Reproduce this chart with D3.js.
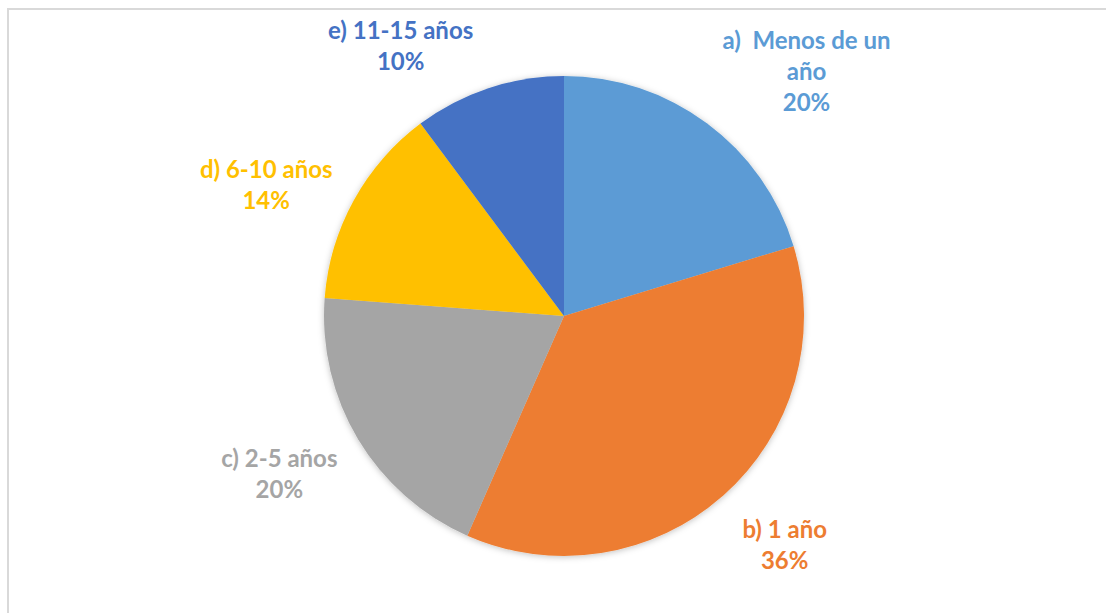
<!DOCTYPE html>
<html>
<head>
<meta charset="utf-8">
<script src="https://cdn.jsdelivr.net/npm/d3@7"></script>
<style>
  html, body { margin: 0; padding: 0; background: #fff; }
  svg { display: block; }
  .label { white-space: pre; }
</style>
</head>
<body>
<div id="chart"></div>
<script>
// chart data
var categories = ["a)  Menos de un año", "b) 1 año", "c) 2-5 años", "d) 6-10 años", "e) 11-15 años"];
var labelLines = [["a)  Menos de un", "año"], ["b) 1 año"], ["c) 2-5 años"], ["d) 6-10 años"], ["e) 11-15 años"]];
var values = [20.3, 36.3, 19.6, 13.6, 10.2];
var colors = ["#5B9BD5", "#ED7D31", "#A5A5A5", "#FFC000", "#4472C4"];

var width = 1106, height = 613;
var cx = 564, cy = 316, radius = 240;
var labelRadius = 325;
// "best fit" nudges, like the spreadsheet does it
var labelNudge = [[49, 17], [5, -14], [-6, -9], [-13, 26], [-61, 39]];
var lineHeight = 31;

var svg = d3.select("#chart").append("svg")
  .attr("width", width)
  .attr("height", height);

// chart area border
svg.append("path")
  .attr("d", "M8,613 V9 H1106")
  .attr("fill", "none")
  .attr("stroke", "#d9d9d9")
  .attr("stroke-width", 2);

var defs = svg.append("defs");
var filter = defs.append("filter")
  .attr("id", "shadow")
  .attr("x", "-20%").attr("y", "-20%")
  .attr("width", "140%").attr("height", "140%");
filter.append("feDropShadow")
  .attr("dx", 0).attr("dy", 1)
  .attr("stdDeviation", 3)
  .attr("flood-color", "#000")
  .attr("flood-opacity", 0.25);

var pie = d3.pie().sort(null).value(function(d){ return d; });
var arcs = pie(values);

var arc = d3.arc().innerRadius(0).outerRadius(radius);
var labelArc = d3.arc().innerRadius(labelRadius).outerRadius(labelRadius);

var g = svg.append("g").attr("transform", "translate(" + cx + "," + cy + ")");

g.append("g")
  .attr("filter", "url(#shadow)")
  .selectAll("path")
  .data(arcs)
  .enter().append("path")
    .attr("d", arc)
    .attr("fill", function(d, i){ return colors[i]; });

var total = d3.sum(values);
var labels = g.selectAll(".label")
  .data(arcs)
  .enter().append("text")
    .attr("class", "label")
    .attr("text-anchor", "middle")
    .attr("font-family", "Lato, 'Open Sans', sans-serif")
    .attr("font-weight", "bold")
    .attr("font-size", "24px")
    .attr("fill", function(d, i){ return colors[i]; })
    .attr("transform", function(d, i){
      var c = labelArc.centroid(d);
      return "translate(" + (c[0] + labelNudge[i][0]) + "," + (c[1] + labelNudge[i][1]) + ")";
    });

labels.each(function(d, i){
  var lines = labelLines[i].concat([Math.round(d.value / total * 100) + "%"]);
  var t = d3.select(this);
  var y0 = -(lines.length - 1) * lineHeight / 2 + 8;
  lines.forEach(function(line, j){
    t.append("tspan")
      .attr("x", 0)
      .attr("y", y0 + j * lineHeight)
      .text(line);
  });
});
</script>
</body>
</html>
